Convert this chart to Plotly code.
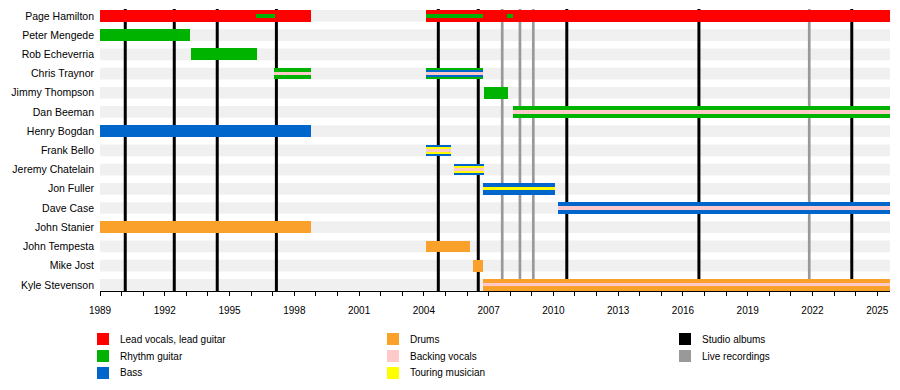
import plotly.graph_objects as go

# ---------------- data ----------------
members = ["Page Hamilton", "Peter Mengede", "Rob Echeverria", "Chris Traynor",
           "Jimmy Thompson", "Dan Beeman", "Henry Bogdan", "Frank Bello",
           "Jeremy Chatelain", "Jon Fuller", "Dave Case", "John Stanier",
           "John Tempesta", "Mike Jost", "Kyle Stevenson"]

START = 1989.0
PRESENT = 2025.59

# (member, role, start, end, level)  level 0 = main bar, 1 = middle band, 2 = centre stripe
seg_member = ["Page Hamilton", "Page Hamilton", "Page Hamilton", "Page Hamilton", "Page Hamilton",
              "Peter Mengede", "Rob Echeverria",
              "Chris Traynor", "Chris Traynor", "Chris Traynor", "Chris Traynor", "Chris Traynor",
              "Jimmy Thompson", "Dan Beeman", "Dan Beeman", "Henry Bogdan",
              "Frank Bello", "Frank Bello", "Frank Bello",
              "Jeremy Chatelain", "Jeremy Chatelain", "Jeremy Chatelain",
              "Jon Fuller", "Jon Fuller", "Dave Case", "Dave Case",
              "John Stanier", "John Tempesta", "Mike Jost", "Kyle Stevenson", "Kyle Stevenson"]
seg_role = ["Lead vocals, lead guitar", "Lead vocals, lead guitar", "Rhythm guitar", "Rhythm guitar", "Rhythm guitar",
            "Rhythm guitar", "Rhythm guitar",
            "Rhythm guitar", "Backing vocals", "Rhythm guitar", "Bass", "Backing vocals",
            "Rhythm guitar", "Rhythm guitar", "Backing vocals", "Bass",
            "Bass", "Touring musician", "Backing vocals",
            "Bass", "Touring musician", "Backing vocals",
            "Bass", "Touring musician", "Bass", "Backing vocals",
            "Drums", "Drums", "Drums", "Drums", "Backing vocals"]
seg_start = [1989.0, 2004.1, 1996.23, 2004.1, 2007.84,
             1989.0, 1993.21,
             1997.06, 1997.06, 2004.1, 2004.1, 2004.1,
             2006.79, 2008.14, 2008.14, 1989.0,
             2004.1, 2004.1, 2004.1,
             2005.4, 2005.4, 2005.4,
             2006.74, 2006.74, 2010.21, 2010.21,
             1989.0, 2004.1, 2006.28, 2006.74, 2006.74]
seg_end = [1998.77, PRESENT, 1997.1, 2006.73, 2008.14,
           1993.17, 1996.27,
           1998.77, 1998.77, 2006.73, 2006.73, 2006.73,
           2007.9, PRESENT, PRESENT, 1998.77,
           2005.24, 2005.24, 2005.24,
           2006.79, 2006.79, 2006.79,
           2010.07, 2010.07, PRESENT, PRESENT,
           1998.77, 2006.14, 2006.74, PRESENT, PRESENT]
seg_level = [0, 0, 2, 2, 2,
             0, 0,
             0, 2, 0, 1, 2,
             0, 0, 2, 0,
             0, 1, 2,
             0, 1, 2,
             0, 2, 0, 2,
             0, 0, 0, 0, 2]

studio_albums = [1990.17, 1992.44, 1994.43, 1997.17, 2004.67, 2006.52, 2010.62, 2016.74, 2023.82]
live_recordings = [2007.63, 2008.45, 2009.07, 2021.85]

tick_years = list(range(1989, 2026, 3))

# ---------------- styles ----------------
role_colors = {
    "Lead vocals, lead guitar": "#FF0000",
    "Rhythm guitar": "#00B300",
    "Bass": "#0066CC",
    "Drums": "#F9A12B",
    "Backing vocals": "#FFC9C9",
    "Touring musician": "#FFFF00",
}
studio_color = "#000000"
live_color = "#999999"
stripe_color = "#F0F0F0"
level_width = {0: 0.61, 1: 0.40, 2: 0.17}

row = {m: i for i, m in enumerate(members)}
FONT = "Liberation Sans, Arial, sans-serif"
Y_TOP, Y_BOTTOM = -0.36, 14.32

fig = go.Figure()

# main bars by level then role
for lvl in (0, 1, 2):
    for role, col in role_colors.items():
        ys, bases, lens = [], [], []
        for m, r, s, e, l in zip(seg_member, seg_role, seg_start, seg_end, seg_level):
            if l == lvl and r == role:
                ys.append(row[m]); bases.append(s); lens.append(e - s)
        if ys:
            fig.add_trace(go.Bar(
                orientation="h", y=ys, x=lens, base=bases,
                width=level_width[lvl], marker=dict(color=col, line=dict(width=0)),
                opacity=1, showlegend=False, hoverinfo="skip"))

shapes = []
# background stripes
for m in members:
    i = row[m]
    shapes.append(dict(type="rect", layer="below", xref="x", yref="y",
                       x0=START, x1=PRESENT, y0=i - 0.305, y1=i + 0.305,
                       fillcolor=stripe_color, line=dict(width=0)))
# album lines
for yr in studio_albums:
    shapes.append(dict(type="line", layer="below", xref="x", yref="y",
                       x0=yr, x1=yr, y0=Y_TOP, y1=Y_BOTTOM, line=dict(color=studio_color, width=3)))
for yr in live_recordings:
    shapes.append(dict(type="line", layer="below", xref="x", yref="y",
                       x0=yr, x1=yr, y0=Y_TOP, y1=Y_BOTTOM, line=dict(color=live_color, width=2.7)))

# custom legend (window pixel -> paper); page body has an 8px margin
PL, PW, PB, PH = 100, 790, 291, 282
def px(x): return (x - PL) / PW
def py(y): return (PB - y) / PH

legend_cols = [
    [("Lead vocals, lead guitar", role_colors["Lead vocals, lead guitar"]),
     ("Rhythm guitar", role_colors["Rhythm guitar"]),
     ("Bass", role_colors["Bass"])],
    [("Drums", role_colors["Drums"]),
     ("Backing vocals", role_colors["Backing vocals"]),
     ("Touring musician", role_colors["Touring musician"])],
    [("Studio albums", studio_color),
     ("Live recordings", live_color)],
]
col_x = [97, 387, 679]
row_y = [339, 356, 373]
annotations = []
for cx, items in zip(col_x, legend_cols):
    for ry, (label, colr) in zip(row_y, items):
        shapes.append(dict(type="rect", xref="paper", yref="paper",
                           x0=px(cx), x1=px(cx + 12), y0=py(ry + 6), y1=py(ry - 6),
                           fillcolor=colr, line=dict(width=0)))
        annotations.append(dict(xref="paper", yref="paper", x=px(cx + 21), y=py(ry),
                                text=label, showarrow=False, xanchor="left", yanchor="middle",
                                font=dict(family=FONT, size=10, color="#000")))

fig.update_layout(
    width=892, height=382,
    margin=dict(l=92, r=10, t=1, b=99, autoexpand=False),
    plot_bgcolor="white", paper_bgcolor="white",
    barmode="overlay", bargap=0,
    shapes=shapes, annotations=annotations,
    showlegend=False,
    font=dict(family=FONT, color="#000"),
    xaxis=dict(range=[START, PRESENT], tickvals=tick_years, ticktext=[str(t) for t in tick_years],
               showgrid=False, zeroline=False, showline=True, linecolor="black", linewidth=1,
               ticks="outside", ticklen=4, tickcolor="black", tickwidth=1, automargin=False,
               ticklabelstandoff=6,
               minor=dict(dtick=1, tick0=1989, ticks="outside", ticklen=4, tickcolor="black", showgrid=False),
               tickfont=dict(family=FONT, size=10), fixedrange=True),
    yaxis=dict(range=[Y_BOTTOM, Y_TOP], tickvals=list(range(len(members))), ticktext=members,
               showgrid=False, zeroline=False, showline=False, ticks="", automargin=False,
               ticklabelstandoff=5,
               tickfont=dict(family=FONT, size=10.5), fixedrange=True),
)

fig.write_html("out.html")
